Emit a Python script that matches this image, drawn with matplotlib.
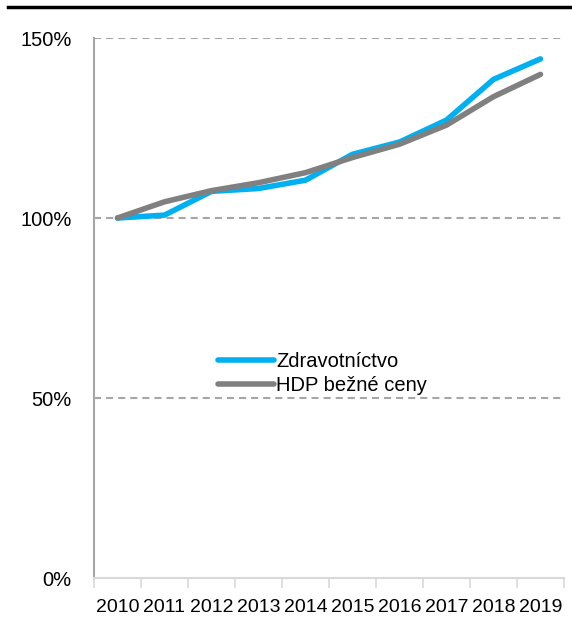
import matplotlib
matplotlib.use("Agg")
import matplotlib.pyplot as plt
from matplotlib.lines import Line2D
import numpy as np

plt.rcParams['font.family'] = ['Liberation Sans', 'DejaVu Sans']

years = ['2010', '2011', '2012', '2013', '2014', '2015', '2016', '2017', '2018', '2019']
zdrav = [100.0, 100.8, 107.4, 108.2, 110.5, 117.7, 121.1, 127.2, 138.5, 144.2]
hdp = [100.0, 104.5, 107.6, 109.8, 112.6, 116.8, 120.5, 125.8, 133.7, 139.9]
labels = ['Zdravotníctvo', 'HDP bežné ceny']
yticks = [0, 50, 100, 150]

fig = plt.figure(figsize=(5.72, 6.28), dpi=100)
ax = fig.add_axes([94/572, 1-578/628, 470/572, 540/628])

x = np.arange(len(years))
ax.plot(x, zdrav, color='#00b0f0', lw=4.0, label=labels[0], solid_capstyle='round', solid_joinstyle='miter', zorder=3)
ax.plot(x, hdp, color='#808080', lw=4.0, label=labels[1], solid_capstyle='round', solid_joinstyle='miter', zorder=4)

ax.set_xlim(-0.5, len(years)-0.5)
ax.set_ylim(0, 150)
ax.set_yticks(yticks)
ax.set_yticklabels([f'{v}%' for v in yticks], fontsize=14.5)
ax.set_xticks(np.arange(-0.5, len(years)), minor=False)
ax.set_xticklabels([])
ax.set_xticks(x, minor=True)
ax.set_xticklabels(years, minor=True, fontsize=14)
ax.tick_params(axis='x', which='major', length=7, color='#d9d9d9', width=1.2)
ax.tick_params(axis='x', which='minor', length=0, pad=15)
ax.tick_params(axis='y', length=0, pad=16)

for v in yticks[1:]:
    ax.axhline(v, color='#a6a6a6', lw=1.5, ls=(0, (3.4, 2.4)), zorder=1)

for s in ['top', 'right']:
    ax.spines[s].set_visible(False)
ax.spines['left'].set_color('#a6a6a6')
ax.spines['left'].set_linewidth(1.5)
ax.spines['bottom'].set_color('#d9d9d9')
ax.spines['bottom'].set_linewidth(1.5)

leg = ax.legend(loc='center left', bbox_to_anchor=(0.264, 0.378), frameon=False,
                fontsize=14.5, handlelength=2.8, handletextpad=0.1, labelspacing=0.25,
                borderpad=0, borderaxespad=0)

fig.add_artist(Line2D([8/572, 1], [1-7/628, 1-7/628], color='black', lw=2.5, transform=fig.transFigure))

fig.savefig('out.png', dpi=100)
